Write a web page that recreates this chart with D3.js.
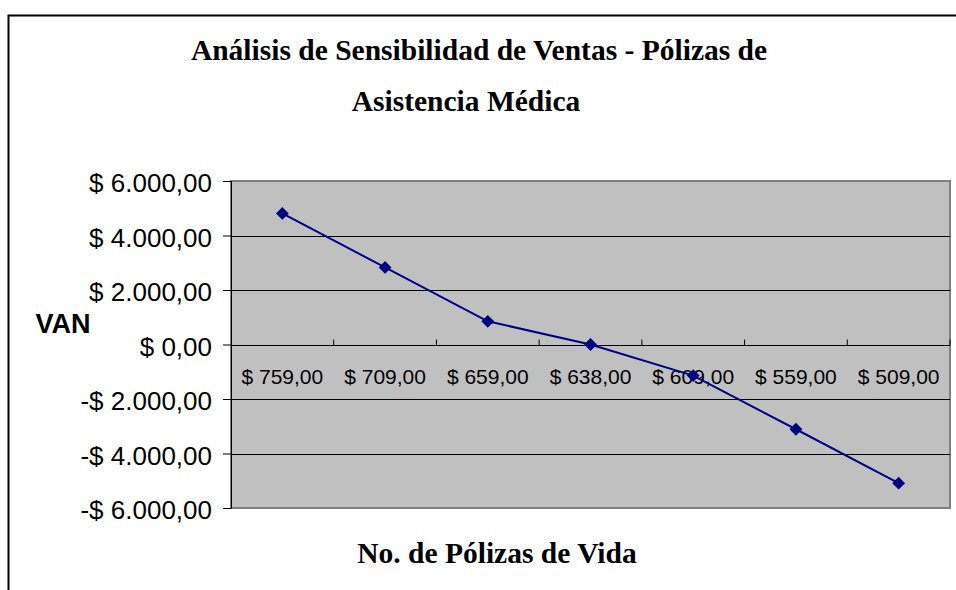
<!DOCTYPE html>
<html>
<head>
<meta charset="utf-8">
<script src="https://cdn.jsdelivr.net/npm/d3@7"></script>
<style>
  body { margin: 0; background: #fff; }
  svg { display: block; }
</style>
</head>
<body>
<div id="chart"></div>
<script>
var categories = ["$ 759,00", "$ 709,00", "$ 659,00", "$ 638,00", "$ 609,00", "$ 559,00", "$ 509,00"];
var van = [4810, 2830, 850, 0, -1140, -3110, -5090];
var yTicks = [-6000, -4000, -2000, 0, 2000, 4000, 6000];

var svgWidth = 956;
var svgHeight = 590;

var plot = { left: 231, right: 950, top: 181, bottom: 508 };

var svg = d3.select("#chart").append("svg")
    .attr("width", svgWidth)
    .attr("height", svgHeight);

// outer chart frame (right and bottom are cut off)
svg.append("path")
    .attr("d", "M8.5,590 V15.5 H956")
    .attr("fill", "none")
    .attr("stroke", "#000")
    .attr("stroke-width", 2);

var locale = d3.formatLocale({
    decimal: ",",
    thousands: ".",
    grouping: [3],
    currency: ["$ ", ""],
    minus: "-"
});
var money = locale.format("$,.2f");

var x = d3.scaleBand()
    .domain(categories)
    .range([plot.left, plot.right]);

var y = d3.scaleLinear()
    .domain([-6000, 6000])
    .range([plot.bottom, plot.top]);

// plot area
svg.append("rect")
    .attr("x", plot.left)
    .attr("y", plot.top)
    .attr("width", plot.right - plot.left)
    .attr("height", plot.bottom - plot.top)
    .attr("fill", "#c0c0c0")
    .attr("stroke", "#808080")
    .attr("stroke-width", 2);

// gridlines + value axis
var yAxis = svg.append("g")
    .attr("transform", `translate(${plot.left},0)`)
    .call(d3.axisLeft(y).tickValues(yTicks).tickSize(8).tickPadding(11).tickFormat(money));

yAxis.select(".domain").attr("stroke", "#000");
yAxis.selectAll(".tick line").attr("stroke", "#000");
yAxis.selectAll(".tick text")
    .attr("font-family", "Liberation Sans, Arial, sans-serif")
    .attr("font-size", "26px")
    .attr("fill", "#000")
    .attr("dy", "0.42em");

svg.append("g").selectAll("line")
    .data(yTicks.filter(d => d !== 6000 && d !== -6000))
    .enter().append("line")
    .attr("x1", plot.left)
    .attr("x2", plot.right)
    .attr("y1", d => Math.round(y(d)) + 0.5)
    .attr("y2", d => Math.round(y(d)) + 0.5)
    .attr("stroke", "#000")
    .attr("stroke-width", 1);

// category axis at zero, ticks upward between categories
var zeroY = Math.round(y(0)) + 0.5;
var xAxis = svg.append("g")
    .attr("transform", `translate(0,${zeroY})`);

xAxis.selectAll(".cat-tick")
    .data(categories.slice(1).concat([null]))
    .enter().append("line")
    .attr("x1", (d, i) => plot.left + x.step() * (i + 1))
    .attr("x2", (d, i) => plot.left + x.step() * (i + 1))
    .attr("y1", 0)
    .attr("y2", -6)
    .attr("stroke", "#000");

xAxis.selectAll(".cat-label")
    .data(categories)
    .enter().append("text")
    .attr("x", d => x(d) + x.bandwidth() / 2)
    .attr("y", 38)
    .attr("text-anchor", "middle")
    .attr("font-family", "Liberation Sans, Arial, sans-serif")
    .attr("font-size", "21px")
    .attr("fill", "#000")
    .text(d => d);

// series line
var line = d3.line()
    .x((d, i) => x(categories[i]) + x.bandwidth() / 2)
    .y(d => y(d));

svg.append("path")
    .datum(van)
    .attr("d", line)
    .attr("fill", "none")
    .attr("stroke", "#000080")
    .attr("stroke-width", 2);

svg.append("g").selectAll("path")
    .data(van)
    .enter().append("path")
    .attr("d", d3.symbol().type(d3.symbolDiamond2).size(105))
    .attr("transform", (d, i) => `translate(${x(categories[i]) + x.bandwidth() / 2},${y(d)})`)
    .attr("fill", "#000080");

svg.append("line")
    .attr("x1", plot.left + 0.5)
    .attr("x2", plot.left + 0.5)
    .attr("y1", plot.top)
    .attr("y2", plot.bottom)
    .attr("stroke", "#000");

// titles
var serif = "Liberation Serif, Times New Roman, serif";
svg.append("text")
    .attr("x", 479)
    .attr("y", 60)
    .attr("text-anchor", "middle")
    .attr("font-family", serif)
    .attr("font-weight", "bold")
    .attr("font-size", "29.5px")
    .text("Análisis de Sensibilidad de Ventas - Pólizas de");

svg.append("text")
    .attr("x", 466)
    .attr("y", 111)
    .attr("text-anchor", "middle")
    .attr("font-family", serif)
    .attr("font-weight", "bold")
    .attr("font-size", "29.5px")
    .text("Asistencia Médica");

svg.append("text")
    .attr("x", 497)
    .attr("y", 563)
    .attr("text-anchor", "middle")
    .attr("font-family", serif)
    .attr("font-weight", "bold")
    .attr("font-size", "29.5px")
    .text("No. de Pólizas de Vida");

svg.append("text")
    .attr("x", 63)
    .attr("y", 333)
    .attr("text-anchor", "middle")
    .attr("font-family", "Liberation Sans, Arial, sans-serif")
    .attr("font-weight", "bold")
    .attr("font-size", "27px")
    .text("VAN");
</script>
</body>
</html>
